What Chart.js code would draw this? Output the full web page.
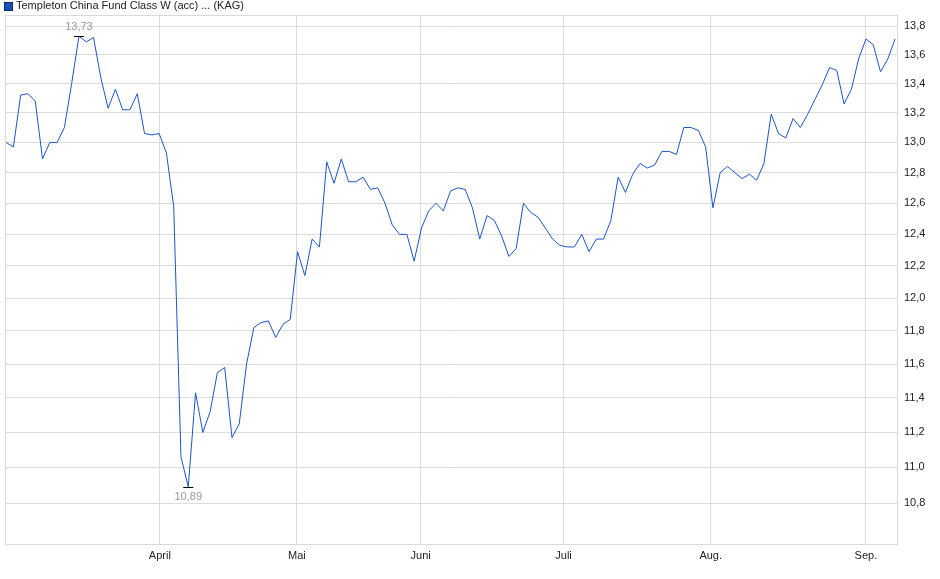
<!DOCTYPE html>
<html>
<head>
<meta charset="utf-8">
<script src="https://cdn.jsdelivr.net/npm/chart.js@4/dist/chart.umd.min.js"></script>
<style>
  html, body { margin: 0; padding: 0; background: #fff; }
  #wrap { width: 940px; height: 579px; position: relative; }
</style>
</head>
<body>
<div id="wrap"><canvas id="chart"></canvas></div>
<script>
const seriesName = 'Templeton China Fund Class W (acc) ... (KAG)';

// daily closes, one per trading day
const prices = [
  13.00, 12.97, 13.32, 13.33, 13.28, 12.89, 13.00, 13.00, 13.10, 13.40,
  13.73, 13.69, 13.72, 13.44, 13.23, 13.36, 13.22, 13.22, 13.33, 13.06,
  13.05, 13.06, 12.93, 12.58, 11.06, 10.89, 11.43, 11.20, 11.32, 11.55,
  11.58, 11.17, 11.25, 11.60, 11.82, 11.85, 11.86, 11.76, 11.84, 11.87,
  12.29, 12.14, 12.37, 12.32, 12.87, 12.73, 12.89, 12.74, 12.74, 12.77,
  12.69, 12.70, 12.60, 12.46, 12.40, 12.40, 12.23, 12.44, 12.55, 12.60,
  12.55, 12.68, 12.70, 12.69, 12.57, 12.37, 12.52, 12.49, 12.39, 12.26,
  12.31, 12.60, 12.54, 12.51, 12.44, 12.37, 12.33, 12.32, 12.32, 12.40,
  12.29, 12.37, 12.37, 12.49, 12.77, 12.67, 12.79, 12.86, 12.83, 12.85,
  12.94, 12.94, 12.92, 13.10, 13.10, 13.08, 12.97, 12.57, 12.80, 12.84,
  12.80, 12.76, 12.79, 12.75, 12.86, 13.19, 13.06, 13.03, 13.16, 13.10,
  13.19, 13.29, 13.39, 13.51, 13.49, 13.26, 13.36, 13.57, 13.71, 13.67,
  13.48, 13.57, 13.71
];

// first trading day of each month, as a position on the day index
const monthNames = ['April', 'Mai', 'Juni', 'Juli', 'Aug.', 'Sep.'];
const monthStarts = [21.1, 39.9, 56.9, 76.5, 96.7, 118.0];

const yTicks = [10.8, 11.0, 11.2, 11.4, 11.6, 11.8, 12.0, 12.2, 12.4, 12.6, 12.8, 13.0, 13.2, 13.4, 13.6, 13.8];

const fmt = v => v.toFixed(2).replace('.', ',');
const FONT = 'Liberation Sans, Arial, sans-serif';

const points = prices.map((p, i) => ({ x: i, y: p }));
const hiIdx = prices.indexOf(Math.max(...prices));
const loIdx = prices.indexOf(Math.min(...prices));

const extras = {
  id: 'extras',
  afterDraw(chart) {
    const { ctx, scales: { x, y }, chartArea: a } = chart;
    ctx.save();
    // frame
    ctx.strokeStyle = '#d9d9d9';
    ctx.lineWidth = 1;
    ctx.strokeRect(a.left + 0.5, a.top + 0.5, a.width - 1, a.height - 1);
    // legend
    ctx.fillStyle = '#1a4fb5';
    ctx.fillRect(4, 2, 8, 8);
    ctx.strokeStyle = '#0b2a66';
    ctx.strokeRect(4.5, 2.5, 8, 8);
    ctx.fillStyle = '#222';
    ctx.font = '11px ' + FONT;
    ctx.textBaseline = 'middle';
    ctx.textAlign = 'left';
    ctx.fillText(seriesName, 16, 6);
    // high / low markers
    const mark = (i, above) => {
      const px = x.getPixelForValue(i), py = y.getPixelForValue(prices[i]);
      ctx.strokeStyle = '#000';
      ctx.beginPath();
      ctx.moveTo(px - 5, Math.round(py) + 0.5);
      ctx.lineTo(px + 5, Math.round(py) + 0.5);
      ctx.stroke();
      ctx.fillStyle = '#999';
      ctx.textAlign = 'center';
      ctx.fillText(fmt(prices[i]), px, above ? py - 9 : py + 10);
    };
    mark(hiIdx, true);
    mark(loIdx, false);
    ctx.restore();
  }
};

new Chart(document.getElementById('chart'), {
  type: 'line',
  data: {
    datasets: [{
      data: points,
      borderColor: '#1a56c8',
      borderWidth: 1,
      pointRadius: 0,
      tension: 0,
      fill: false
    }]
  },
  options: {
    responsive: true,
    maintainAspectRatio: false,
    animation: false,
    layout: { padding: { top: 15, left: 5, right: 0, bottom: 0 } },
    plugins: { legend: { display: false }, tooltip: { enabled: false } },
    scales: {
      x: {
        type: 'linear',
        min: -0.15,
        max: 122.4,
        afterBuildTicks: s => { s.ticks = monthStarts.map(v => ({ value: v })); },
        afterFit: s => { s.height = 34; },
        grid: { color: '#dcdcdc', drawTicks: false },
        border: { display: false },
        ticks: {
          callback: (v, i) => monthNames[i],
          color: '#222',
          font: { size: 11, family: FONT },
          padding: 4,
          maxRotation: 0,
          autoSkip: false
        }
      },
      y: {
        type: 'logarithmic',
        position: 'right',
        min: 10.57,
        max: 13.88,
        afterBuildTicks: s => { s.ticks = yTicks.map(v => ({ value: v })); },
        afterFit: s => { s.width = 42; },
        grid: { color: '#dcdcdc', drawTicks: false },
        border: { display: false },
        ticks: {
          callback: v => v.toFixed(1).replace('.', ','),
          color: '#222',
          font: { size: 11, family: FONT },
          padding: 6
        }
      }
    }
  },
  plugins: [extras]
});
</script>
</body>
</html>
